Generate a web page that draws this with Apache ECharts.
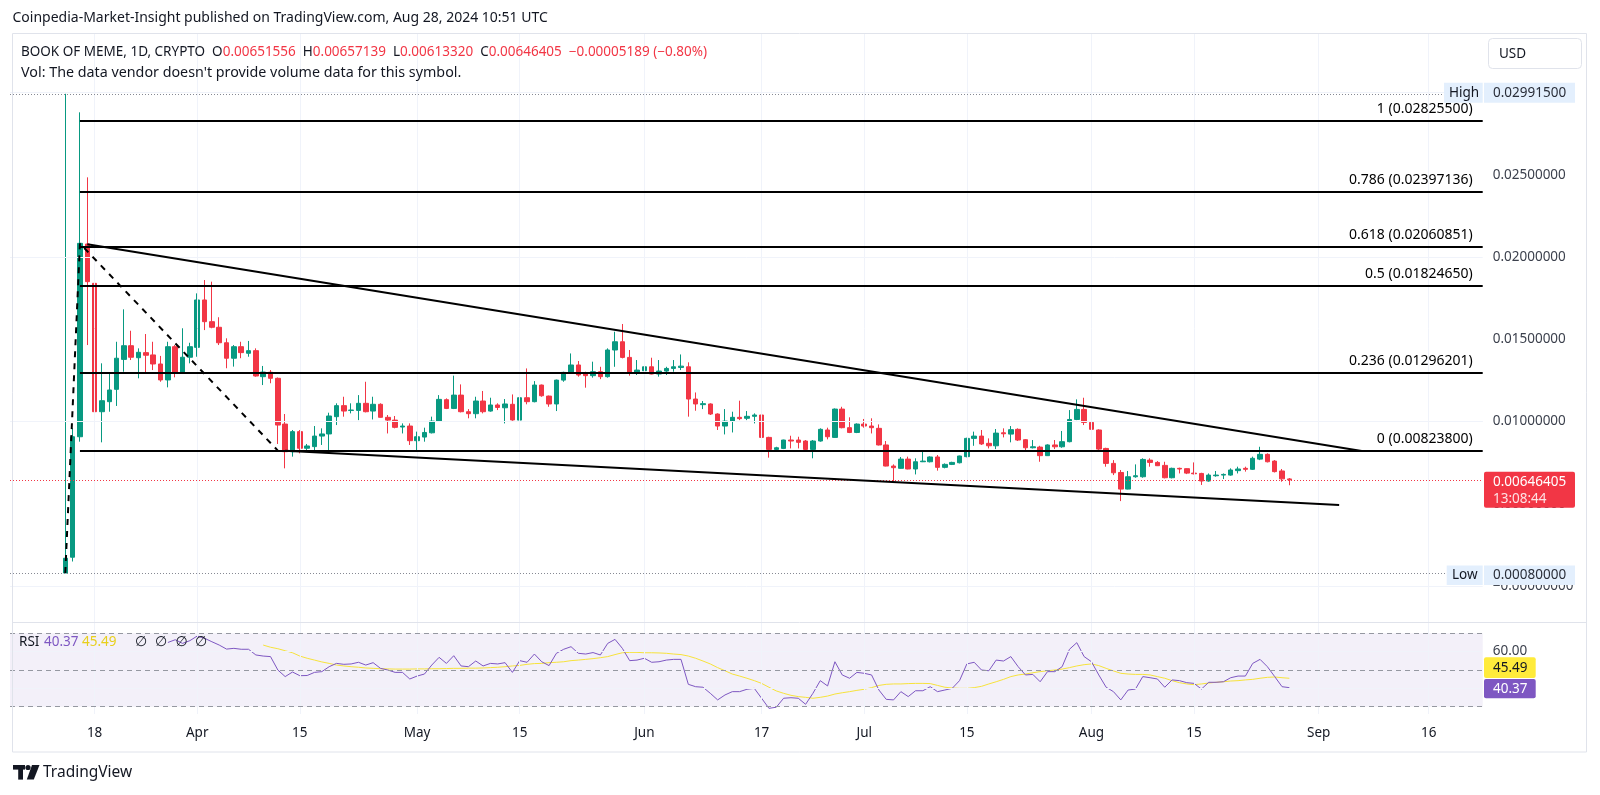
<!DOCTYPE html>
<html><head><meta charset="utf-8">
<script src="https://cdn.jsdelivr.net/npm/echarts@6/dist/echarts.min.js"></script>
<style>html,body{margin:0;padding:0;background:#fff;overflow:hidden}#c{width:1600px;height:795px}</style>
</head><body><div id="c"></div>
<script>
// ---------------- data ----------------
const symbolTitle = 'BOOK OF MEME, 1D, CRYPTO';
const candleStart = '2024-03-14';
// [open, high, low, close]
const candles = [
[0.00080,0.029915,0.00080,0.00170],[0.00176,0.00960,0.00150,0.00908],[0.00908,0.02879,0.00878,0.02083],[0.02079,0.02484,0.01465,0.01850],
[0.01840,0.01937,0.00969,0.01060],[0.01060,0.01354,0.00874,0.01127],[0.01121,0.01293,0.01060,0.01192],[0.01196,0.01485,0.01095,0.01385],
[0.01378,0.01682,0.01303,0.01461],[0.01461,0.01552,0.01374,0.01391],[0.01388,0.01445,0.01263,0.01421],[0.01419,0.01532,0.01293,0.01403],
[0.01405,0.01485,0.01313,0.01350],[0.01350,0.01399,0.01242,0.01253],[0.01253,0.01485,0.01208,0.01455],[0.01455,0.01465,0.01269,0.01293],
[0.01293,0.01567,0.01289,0.01391],[0.01391,0.01479,0.01354,0.01455],
[0.01451,0.01779,0.01394,0.01739],[0.01739,0.01860,0.01556,0.01607],[0.01607,0.01850,0.01567,0.01573],[0.01573,0.01634,0.01465,0.01479],
[0.01479,0.01506,0.01324,0.01385],[0.01385,0.01465,0.01334,0.01455],[0.01455,0.01485,0.01385,0.01419],[0.01415,0.01490,0.01394,0.01431],
[0.01431,0.01445,0.01273,0.01277],[0.01273,0.01338,0.01222,0.01301],[0.01300,0.01313,0.01233,0.01263],[0.01263,0.01268,0.00864,0.00979],
[0.00985,0.01046,0.00716,0.00817],[0.00817,0.00949,0.00787,0.00939],[0.00939,0.00949,0.00807,0.00838],[0.00838,0.00864,0.00817,0.00852],
[0.00848,0.00973,0.00827,0.00912],[0.00912,0.00959,0.00858,0.00925],[0.00925,0.01054,0.00827,0.01034],[0.01030,0.01111,0.00979,0.01097],
[0.01097,0.01151,0.01030,0.01064],[0.01068,0.01111,0.01050,0.01070],[0.01068,0.01161,0.01009,0.01111],[0.01111,0.01242,0.01056,0.01060],
[0.01064,0.01151,0.01013,0.01105],[0.01105,0.01111,0.01024,0.01026],[0.01026,0.01040,0.00928,0.01009],[0.01009,0.01034,0.00959,0.00965],
[0.00967,0.00989,0.00928,0.00973],[0.00973,0.00989,0.00858,0.00884],
[0.00884,0.00939,0.00817,0.00908],[0.00906,0.00963,0.00878,0.00934],[0.00932,0.01030,0.00928,0.01003],[0.01003,0.01161,0.00999,0.01135],
[0.01133,0.01141,0.01076,0.01080],[0.01080,0.01279,0.01076,0.01161],[0.01161,0.01226,0.01056,0.01060],[0.01060,0.01076,0.01020,0.01048],
[0.01048,0.01151,0.01020,0.01125],[0.01125,0.01186,0.01050,0.01060],[0.01064,0.01145,0.01060,0.01101],[0.01101,0.01111,0.01070,0.01086],
[0.01084,0.01137,0.00989,0.01107],[0.01105,0.01165,0.01005,0.01010],[0.01009,0.01157,0.01003,0.01145],[0.01145,0.01323,0.01105,0.01121],
[0.01121,0.01246,0.01117,0.01222],[0.01222,0.01225,0.01151,0.01157],[0.01155,0.01158,0.01090,0.01107],[0.01107,0.01255,0.01064,0.01252],
[0.01252,0.01303,0.01242,0.01299],[0.01299,0.01414,0.01293,0.01344],[0.01344,0.01368,0.01273,0.01283],[0.01293,0.01303,0.01206,0.01279],
[0.01279,0.01364,0.01267,0.01303],[0.01303,0.01333,0.01258,0.01273],[0.01273,0.01445,0.01267,0.01435],[0.01435,0.01546,0.01333,0.01485],
[0.01485,0.01593,0.01384,0.01390],[0.01390,0.01435,0.01279,0.01293],[0.01293,0.01374,0.01283,0.01313],
[0.01309,0.01374,0.01293,0.01333],[0.01333,0.01388,0.01287,0.01289],[0.01289,0.01374,0.01273,0.01307],[0.01307,0.01333,0.01283,0.01323],
[0.01323,0.01374,0.01303,0.01333],[0.01329,0.01408,0.01313,0.01337],[0.01333,0.01360,0.01030,0.01137],[0.01137,0.01177,0.01066,0.01107],
[0.01103,0.01125,0.01076,0.01109],[0.01107,0.01111,0.01040,0.01046],[0.01046,0.01050,0.00949,0.00973],[0.00973,0.01076,0.00922,0.01003],
[0.01003,0.01060,0.00934,0.01026],[0.01026,0.01127,0.01009,0.01018],[0.01020,0.01064,0.01009,0.01032],[0.01032,0.01050,0.00989,0.01040],
[0.01040,0.01050,0.00898,0.00904],[0.00904,0.00908,0.00781,0.00831],[0.00831,0.00847,0.00827,0.00841],[0.00837,0.00890,0.00833,0.00888],
[0.00888,0.00914,0.00837,0.00882],[0.00888,0.00908,0.00837,0.00874],[0.00882,0.00888,0.00827,0.00831],[0.00831,0.00888,0.00777,0.00882],
[0.00882,0.00959,0.00878,0.00953],[0.00949,0.00963,0.00892,0.00908],[0.00904,0.01080,0.00902,0.01076],[0.01076,0.01090,0.00959,0.00963],
[0.00963,0.01026,0.00930,0.00934],[0.00934,0.00989,0.00930,0.00985],
[0.00985,0.01016,0.00963,0.00973],[0.00973,0.01020,0.00928,0.00963],[0.00959,0.00983,0.00855,0.00858],[0.00858,0.00882,0.00728,0.00730],
[0.00730,0.00740,0.00639,0.00720],[0.00716,0.00785,0.00714,0.00772],[0.00772,0.00787,0.00710,0.00712],[0.00712,0.00777,0.00679,0.00756],
[0.00756,0.00817,0.00754,0.00760],[0.00756,0.00789,0.00752,0.00785],[0.00785,0.00797,0.00702,0.00722],[0.00722,0.00746,0.00716,0.00740],
[0.00740,0.00756,0.00736,0.00752],[0.00750,0.00793,0.00746,0.00791],[0.00787,0.00902,0.00783,0.00898],[0.00898,0.00939,0.00853,0.00912],
[0.00912,0.00949,0.00858,0.00864],[0.00868,0.00898,0.00837,0.00853],[0.00853,0.00955,0.00833,0.00930],[0.00932,0.00959,0.00904,0.00926],
[0.00924,0.00973,0.00874,0.00951],[0.00953,0.00959,0.00882,0.00888],[0.00890,0.00894,0.00823,0.00841],[0.00841,0.00888,0.00837,0.00847],
[0.00845,0.00853,0.00756,0.00793],[0.00793,0.00862,0.00791,0.00858],[0.00858,0.00888,0.00833,0.00847],[0.00847,0.00943,0.00841,0.00878],
[0.00878,0.01070,0.00874,0.01013],[0.01013,0.01135,0.01009,0.01074],[0.01074,0.01145,0.00979,0.00995],
[0.00995,0.00999,0.00908,0.00953],[0.00949,0.00953,0.00827,0.00833],[0.00837,0.00841,0.00726,0.00746],[0.00746,0.00766,0.00675,0.00689],
[0.00691,0.00706,0.00517,0.00590],[0.00590,0.00700,0.00588,0.00665],[0.00665,0.00740,0.00659,0.00671],[0.00665,0.00777,0.00659,0.00770],
[0.00766,0.00777,0.00726,0.00752],[0.00752,0.00760,0.00730,0.00732],[0.00734,0.00756,0.00655,0.00659],[0.00659,0.00720,0.00655,0.00716],
[0.00716,0.00720,0.00685,0.00712],[0.00714,0.00716,0.00681,0.00687],[0.00687,0.00752,0.00679,0.00683],[0.00685,0.00689,0.00615,0.00639],
[0.00639,0.00685,0.00635,0.00675],[0.00671,0.00700,0.00665,0.00675],[0.00675,0.00685,0.00651,0.00679],[0.00675,0.00716,0.00671,0.00706],
[0.00702,0.00726,0.00685,0.00712],[0.00716,0.00726,0.00696,0.00710],[0.00710,0.00787,0.00706,0.00777],[0.00772,0.00847,0.00766,0.00801],
[0.00801,0.00807,0.00752,0.00756],[0.00760,0.00766,0.00691,0.00696],[0.00700,0.00712,0.00635,0.00652],[0.00651556,0.00657139,0.0061332,0.00646405]
];
const prevClose = 0.00651594;
const countdown = '13:08:44';

const rsiStart = '2024-03-28';
const rsiValues = [
65.0,66.5,64.5,66.0,
68.5,67.3,65.4,63.6,61.4,61.8,61.3,61.3,58.2,57.6,57.3,50.0,46.4,48.9,46.9,47.0,48.7,49.1,51.8,53.6,53.1,53.3,54.2,52.7,54.0,50.9,50.0,48.7,48.7,45.1,
46.7,47.8,52.7,56.9,53.6,57.8,52.2,51.8,54.9,52.2,53.6,53.3,54.0,48.7,55.1,54.2,58.7,54.5,52.4,59.1,61.3,62.7,59.1,58.7,59.5,58.2,64.5,66.7,61.8,55.1,55.4,
56.4,54.2,54.5,55.4,55.8,55.8,42.2,40.9,40.6,37.3,33.7,36.4,38.2,38.2,39.5,40.0,34.6,29.1,29.7,34.6,34.9,34.6,31.3,37.3,44.2,41.3,54.5,47.3,45.5,48.7,
48.2,47.3,39.1,34.0,33.7,38.2,35.5,38.7,38.7,40.9,38.2,39.1,40.0,44.2,53.3,54.2,50.0,49.6,55.4,54.9,57.3,51.8,47.3,47.6,43.6,49.1,49.1,51.8,61.3,64.9,57.3,
54.5,47.3,40.6,38.2,33.7,39.1,39.6,46.4,45.8,45.1,40.6,44.6,44.2,43.1,42.7,39.6,43.3,43.3,43.6,45.8,46.7,46.7,53.6,55.8,51.8,46.4,40.9,40.37
];
const rsiMaStart = '2024-04-10';
const rsiMaValues = [
63.6,62.4,61.6,60.5,59.4,57.6,56.4,55.4,54.4,53.6,52.7,52.2,51.8,51.5,51.1,50.9,50.7,50.6,50.5,50.5,50.5,
50.6,50.6,50.7,50.7,50.8,50.9,50.9,51.0,51.0,51.1,51.3,51.5,51.8,52.2,52.5,53.1,53.5,53.6,54.0,54.2,54.5,55.1,55.4,55.8,56.2,56.7,57.3,58.4,59.4,59.6,59.6,
59.4,59.4,59.3,59.1,58.7,58.4,57.6,56.4,54.9,53.3,51.3,49.6,47.8,46.7,45.5,44.2,42.7,40.6,38.6,37.3,36.2,35.5,35.1,34.6,35.1,35.8,36.9,37.6,38.2,38.9,
39.5,40.4,41.6,42.2,42.4,42.4,42.6,42.7,42.7,42.6,41.6,40.6,40.2,40.0,40.0,40.4,41.1,42.4,43.6,44.9,46.4,47.3,47.8,48.5,49.1,49.6,50.0,50.5,51.3,52.2,52.9,
53.3,52.4,50.9,49.5,48.2,47.8,47.6,47.6,47.3,46.4,45.5,44.2,43.1,42.4,42.0,42.4,42.9,43.3,43.6,44.0,44.2,44.6,44.9,45.5,46.0,46.2,45.8,45.49
];

const fibRatios = ['1','0.786','0.618','0.5','0.236','0'];
const fibPrices = [0.028255,0.02397136,0.02060851,0.0182465,0.01296201,0.008238];
const fibStartDate = '2024-03-16';
const upperTrend = [['2024-03-17',0.02077],['2024-09-06 21:00',0.00822]];
const lowerTrend = [['2024-04-13',0.00823],['2024-09-03 19:00',0.00493]];
const extensionPath = [['2024-03-14',0.0008],['2024-03-16',0.020817],['2024-04-12',0.008238]];
const highValue = 0.029915, lowValue = 0.0008;

const priceTicks = [0,0.005,0.01,0.015,0.02,0.025];
const rsiTicks = [60];
const rsiGridLines = [40,60];
const rsiBands = [70,50,30];
const timeTickDates = ['2024-03-18','2024-04-01','2024-04-15','2024-05-01','2024-05-15','2024-06-01','2024-06-17','2024-07-01','2024-07-15','2024-08-01','2024-08-15','2024-09-01','2024-09-16'];
const timeTickLabels = ['18','Apr','15','May','15','Jun','17','Jul','15','Aug','15','Sep','16'];
const viewStart = '2024-03-06 11:00', viewEnd = '2024-09-23 09:00';

// ---------------- helpers ----------------
function ts(s){const p=s.split(' ');const [y,m,d]=p[0].split('-').map(Number);const [hh,mm]=(p[1]||'0:0').split(':').map(Number);return Date.UTC(y,m-1,d,hh,mm);}
function dayTs(start,n){const [y,m,d]=start.split('-').map(Number);return Date.UTC(y,m-1,d+n);}
const FONT='"Noto Sans", "DejaVu Sans", sans-serif';
const TXT='#131722', UP='#089981', DOWN='#F23645';
const xMin=ts(viewStart), xMax=ts(viewEnd);
const tickMap={}; timeTickDates.forEach((d,i)=>tickMap[ts(d)]=timeTickLabels[i]);

const candleData = candles.map((r,i)=>[dayTs(candleStart,i), r[0], r[3], r[2], r[1]]);
const rsiData = rsiValues.map((v,i)=>[dayTs(rsiStart,i), v]);
const rsiMaData = rsiMaValues.map((v,i)=>[dayTs(rsiMaStart,i), v]);
const last = candles[candles.length-1];
const rsiLast = rsiValues[rsiValues.length-1], rsiMaLast = rsiMaValues[rsiMaValues.length-1];

const gridLine = {color:'#f0f3fa', width:1, type:'solid'};
const noSym = ['none','none'];

const chart = echarts.init(document.getElementById('c'), null, {renderer:'canvas'});
const option = {
  animation:false,
  backgroundColor:'#ffffff',
  grid:[
    {left:10, right:117.3, top:34, height:588.7},
    {left:10, right:117.3, top:622.7, height:91.3}
  ],
  xAxis:[
    {type:'value', gridIndex:0, min:xMin, max:xMax, scale:true, show:false, splitLine:{show:false}},
    {type:'value', gridIndex:1, min:xMin, max:xMax, scale:true,
     axisLine:{show:false}, axisTick:{show:false}, splitLine:{show:false},
     axisLabel:{customValues:timeTickDates.map(ts), formatter:v=>tickMap[v]||'', color:TXT, fontSize:13.5, fontFamily:FONT, margin:12, showMinLabel:true, showMaxLabel:true}}
  ],
  yAxis:[
    {type:'value', gridIndex:0, position:'right', min:-0.002218, max:0.033548, scale:true,
     axisLine:{show:false}, axisTick:{show:false}, splitLine:{show:false},
     axisLabel:{customValues:priceTicks, formatter:v=>v===0?'\u22120.00000000':v.toFixed(8), color:'#3c414d', fontSize:13.5, fontFamily:FONT, margin:10}},
    {type:'value', gridIndex:1, position:'right', min:26.02, max:75.78, scale:true,
     axisLine:{show:false}, axisTick:{show:false}, splitLine:{show:false},
     axisLabel:{customValues:rsiTicks, formatter:v=>v.toFixed(2), color:'#3c414d', fontSize:13.5, fontFamily:FONT, margin:10}}
  ],
  series:[
    {
      type:'line', xAxisIndex:0, yAxisIndex:0, data:[], z:0, silent:true,
      markLine:{silent:true, symbol:noSym, label:{show:false}, lineStyle:gridLine, animation:false,
        data:[...priceTicks.map(v=>({yAxis:v})), ...timeTickDates.map(d=>({xAxis:ts(d)}))]}
    },
    {
      type:'line', xAxisIndex:1, yAxisIndex:1, data:[], z:0, silent:true,
      markArea:{silent:true, itemStyle:{color:'rgba(126,87,194,0.09)'}, data:[[{yAxis:rsiBands[0]},{yAxis:rsiBands[2]}]]},
      markLine:{silent:true, symbol:noSym, label:{show:false}, lineStyle:gridLine, animation:false,
        data:[...rsiGridLines.map(v=>({yAxis:v})), ...timeTickDates.map(d=>({xAxis:ts(d)}))]}
    },
    {
      type:'line', xAxisIndex:1, yAxisIndex:1, data:[], z:1, silent:true,
      markLine:{silent:true, symbol:noSym, label:{show:false}, lineStyle:{color:'#9598a1', width:1, type:[5,4]}, animation:false,
        data:rsiBands.map(v=>({yAxis:v}))}
    },
    {
      type:'line', xAxisIndex:0, yAxisIndex:0, data:[], z:1, silent:true,
      markLine:{silent:true, symbol:noSym, label:{show:false}, animation:false,
        data:[
          [{coord:[xMin,highValue], lineStyle:{color:'#868993', width:1, type:[1,2]}},{coord:[xMax,highValue]}],
          [{coord:[xMin,lowValue], lineStyle:{color:'#868993', width:1, type:[1,2]}},{coord:[xMax,lowValue]}],
          [{coord:[xMin,last[3]], lineStyle:{color:DOWN, width:1, type:[1,2]}},{coord:[xMax,last[3]]}]
        ]}
    },
    {
      name:'BOOK OF MEME', type:'candlestick', xAxisIndex:0, yAxisIndex:0, z:3,
      data:candleData, encode:{x:0, y:[1,2,3,4]}, barWidth:5,
      itemStyle:{color:UP, color0:DOWN, borderColor:UP, borderColor0:DOWN, borderWidth:1}
    },
    {
      type:'line', xAxisIndex:0, yAxisIndex:0, data:[], z:4, silent:true,
      markLine:{silent:true, symbol:noSym, animation:false,
        lineStyle:{color:'#000', width:2, type:'solid'},
        label:{show:true, position:'insideEndTop', distance:[10,5], color:'#000', fontSize:14, fontFamily:FONT},
        data:fibPrices.map((p,i)=>[{coord:[ts(fibStartDate),p], label:{formatter:fibRatios[i]+' ('+p.toFixed(8)+')'}},{coord:[xMax,p]}])}
    },
    {type:'line', xAxisIndex:0, yAxisIndex:0, z:5, symbol:'none', silent:true,
     data:upperTrend.map(p=>[ts(p[0]),p[1]]), lineStyle:{color:'#000', width:2}},
    {type:'line', xAxisIndex:0, yAxisIndex:0, z:5, symbol:'none', silent:true,
     data:lowerTrend.map(p=>[ts(p[0]),p[1]]), lineStyle:{color:'#000', width:2}},
    {type:'line', xAxisIndex:0, yAxisIndex:0, z:5, symbol:'none', silent:true,
     data:extensionPath.map(p=>[ts(p[0]),p[1]]), lineStyle:{color:'#000', width:2, type:[6,6]}},
    {name:'RSI', type:'line', xAxisIndex:1, yAxisIndex:1, z:4, symbol:'none', silent:true,
     data:rsiData, lineStyle:{color:'#7E57C2', width:1}},
    {name:'RSI MA', type:'line', xAxisIndex:1, yAxisIndex:1, z:3, symbol:'none', silent:true,
     data:rsiMaData, lineStyle:{color:'#f7e33b', width:1}}
  ]
};
chart.setOption(option);

const yP = chart.convertToPixel({yAxisIndex:0}, last[3]);
const yH = chart.convertToPixel({yAxisIndex:0}, highValue);
const yL = chart.convertToPixel({yAxisIndex:0}, lowValue);
const yR = chart.convertToPixel({yAxisIndex:1}, rsiLast);
const yM0 = chart.convertToPixel({yAxisIndex:1}, rsiMaLast);
const rBoxTop = yR + 1 - 9.7;
const yM = Math.min(yM0, rBoxTop - 1 - 10.3);
const AX = 1484, AXT = 1493;
function txt(x,y,text,opt){return {type:'text', x, y, silent:true, z:100, style:Object.assign({text, fill:TXT, fontSize:13, fontFamily:FONT, verticalAlign:'middle', align:'left'}, opt||{})};}
function box(x,y,w,h,fill,r){return {type:'rect', silent:true, z:99, shape:{x,y,width:w,height:h,r:r||0}, style:{fill}};}
const chg = last[3]-prevClose, pct = chg/prevClose*100;
const fmtS = v => (v<0?'\u2212':'')+Math.abs(v).toFixed(8);
const graphics = [
  {type:'rect', silent:true, z:98, shape:{x:12.5,y:33.5,width:1574,height:718.5}, style:{fill:'none', stroke:'#e0e3eb', lineWidth:1}},
  {type:'line', silent:true, z:98, shape:{x1:12.5,y1:622.5,x2:1586.5,y2:622.5}, style:{stroke:'#e0e3eb', lineWidth:1}},
  txt(12.5, 18, 'Coinpedia-Market-Insight published on TradingView.com, Aug 28, 2024 10:51 UTC', {fontSize:14}),
  {type:'text', x:21, y:52, silent:true, z:100, style:{
    text:'{t|'+symbolTitle+'}  {t|O}{r|'+last[0].toFixed(8)+'}  {t|H}{r|'+last[1].toFixed(8)+'}  {t|L}{r|'+last[2].toFixed(8)+'}  {t|C}{r|'+last[3].toFixed(8)+'}  {r|'+fmtS(chg)+' ('+(pct<0?'\u2212':'')+Math.abs(pct).toFixed(2)+'%)}',
    fontSize:13.5, fontFamily:FONT, fill:TXT, verticalAlign:'middle',
    rich:{t:{fill:TXT, fontSize:13.5, fontFamily:FONT}, r:{fill:DOWN, fontSize:13.5, fontFamily:FONT}}}},
  txt(21, 72.5, "Vol: The data vendor doesn't provide volume data for this symbol.", {fontSize:14.3}),
  {type:'rect', silent:true, z:99, shape:{x:1488.5,y:38.5,width:93,height:30,r:4}, style:{fill:'#fff', stroke:'#e0e3eb', lineWidth:1}},
  txt(1499, 54, 'USD', {fontSize:13.5}),
  box(1444, yH-11, 38.7, 20, '#e3effd', 0), txt(1449, yH-1, 'High', {fontSize:13.5}),
  box(AX, yH-11, 91, 20, '#e3effd', 0), txt(AXT, yH-1, highValue.toFixed(8), {fontSize:13.5, fill:'#2a2e39'}),
  box(1446.7, yL-7.5, 36, 19.5, '#e3effd', 0), txt(1452, yL+2.2, 'Low', {fontSize:13.5}),
  box(AX, yL-7.5, 91, 19.5, '#e3effd', 0), txt(AXT, yL+2.2, lowValue.toFixed(8), {fontSize:13.5, fill:'#2a2e39'}),
  box(AX, yP-8.1, 91, 36, DOWN, 2), txt(AXT, yP+2, last[3].toFixed(8), {fontSize:13.5, fill:'#fff'}),
  txt(AXT, yP+19, countdown, {fontSize:13.5, fill:'rgba(255,255,255,0.85)'}),
  box(AX, yM-10.3, 51.7, 20.6, '#FFEB3B', 2), txt(AXT, yM, rsiMaLast.toFixed(2), {fontSize:13.5, fill:TXT}),
  box(AX, rBoxTop, 51.7, 19.4, '#7E57C2', 2), txt(AXT, yR+1, rsiLast.toFixed(2), {fontSize:13.5, fill:'#fff'}),
  // RSI legend
  txt(19, 642.5, 'RSI', {fontSize:13.5}),
  txt(44, 642.5, rsiLast.toFixed(2), {fontSize:13.5, fill:'#7E57C2'}),
  txt(82, 642.5, rsiMaLast.toFixed(2), {fontSize:13.5, fill:'#e8cf1c'}),
  txt(141, 642.5, '\u2205', {fontSize:14, align:'center'}),
  txt(161.2, 642.5, '\u2205', {fontSize:14, align:'center'}),
  txt(181.6, 642.5, '\u2205', {fontSize:14, align:'center'}),
  txt(201, 642.5, '\u2205', {fontSize:14, align:'center'}),
  // TradingView logo
  {type:'rect', silent:true, z:100, shape:{x:13,y:765,width:12,height:4.6}, style:{fill:TXT}},
  {type:'rect', silent:true, z:100, shape:{x:18.2,y:765,width:4.8,height:14.6}, style:{fill:TXT}},
  {type:'circle', silent:true, z:100, shape:{cx:28,cy:767.5,r:2.6}, style:{fill:TXT}},
  {type:'polygon', silent:true, z:100, shape:{points:[[32,765],[39.5,765],[33.8,779.6],[26.8,779.6]]}, style:{fill:TXT}},
  txt(43, 773, 'TradingView', {fontSize:15.5, fill:TXT})
];
chart.setOption({graphic:graphics});
</script></body></html>
